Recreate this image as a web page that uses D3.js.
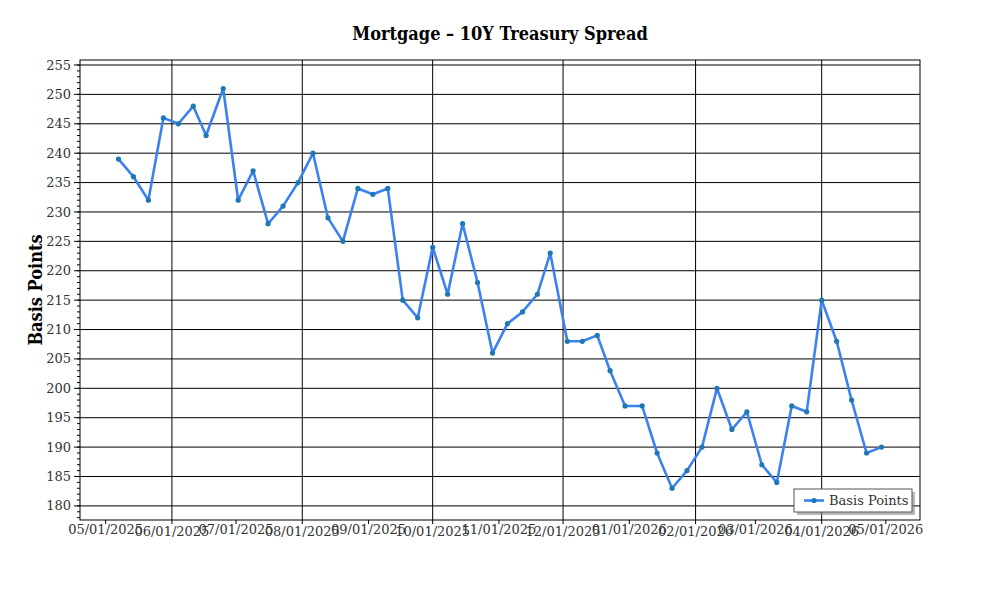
<!DOCTYPE html>
<html>
<head>
<meta charset="utf-8">
<script src="https://cdn.jsdelivr.net/npm/d3@7"></script>
<style>
  body { margin: 0; background: #fff; }
  svg text { font-family: "DejaVu Serif", serif; }
  svg text.cond { font-family: "DejaVu Serif Condensed", "DejaVu Serif", serif; font-stretch: condensed; }
</style>
</head>
<body>
<div id="container" style="width:1000px;height:600px;"></div>
<script>
// weekly survey dates and spread values (bp)
const dates = [
  "2025-05-07", "2025-05-14", "2025-05-21", "2025-05-28", "2025-06-04", "2025-06-11",
  "2025-06-17", "2025-06-25", "2025-07-02", "2025-07-09", "2025-07-16", "2025-07-23",
  "2025-07-30", "2025-08-06", "2025-08-13", "2025-08-20", "2025-08-27", "2025-09-03",
  "2025-09-10", "2025-09-17", "2025-09-24", "2025-10-01", "2025-10-08", "2025-10-15",
  "2025-10-22", "2025-10-29", "2025-11-05", "2025-11-12", "2025-11-19", "2025-11-25",
  "2025-12-03", "2025-12-10", "2025-12-17", "2025-12-23", "2025-12-30", "2026-01-07",
  "2026-01-14", "2026-01-21", "2026-01-28", "2026-02-04", "2026-02-11", "2026-02-18",
  "2026-02-25", "2026-03-04", "2026-03-11", "2026-03-18", "2026-03-25", "2026-04-01",
  "2026-04-08", "2026-04-15", "2026-04-22", "2026-04-29"
];
const spread = [
  239, 236, 232, 246, 245, 248,
  243, 251, 232, 237, 228, 231,
  235, 240, 229, 225, 234, 233,
  234, 215, 212, 224, 216, 228,
  218, 206, 211, 213, 216, 223,
  208, 208, 209, 203, 197, 197,
  189, 183, 186, 190, 200, 193,
  196, 187, 184, 197, 196, 215,
  208, 198, 189, 190
];
const yTicks = [180, 185, 190, 195, 200, 205, 210, 215, 220, 225, 230, 235, 240, 245, 250, 255];
const seriesName = "Basis Points";

const width = 1000, height = 600;
const margin = { top: 60, right: 80, bottom: 80, left: 80 };
const parse = d3.timeParse("%Y-%m-%d");
const data = dates.map((d, i) => ({ date: parse(d), value: spread[i] }));

const svg = d3.select("#container").append("svg")
    .attr("width", width)
    .attr("height", height);

const x = d3.scaleTime()
    .domain([parse("2025-04-19"), parse("2026-05-17")])
    .range([margin.left, width - margin.right]);

const y = d3.scaleLinear()
    .domain([177.6, 255.85])
    .range([height - margin.bottom, margin.top]);

const months = d3.timeMonth.range(parse("2025-05-01"), parse("2026-05-02"));
const gridMonths = months.filter(d => d.getMonth() % 2 === 1);

// grid
svg.append("g")
    .selectAll("line")
    .data(yTicks)
    .join("line")
    .attr("x1", margin.left).attr("x2", width - margin.right)
    .attr("y1", d => y(d)).attr("y2", d => y(d))
    .attr("stroke", "#000").attr("stroke-width", 1);

svg.append("g")
    .selectAll("line")
    .data(gridMonths)
    .join("line")
    .attr("x1", d => x(d)).attr("x2", d => x(d))
    .attr("y1", margin.top).attr("y2", height - margin.bottom)
    .attr("stroke", "#000").attr("stroke-width", 1);

// frame
svg.append("rect")
    .attr("x", margin.left).attr("y", margin.top)
    .attr("width", width - margin.left - margin.right)
    .attr("height", height - margin.top - margin.bottom)
    .attr("fill", "none").attr("stroke", "#000").attr("stroke-width", 1);

// y axis with minor ticks
const yMinor = d3.range(178, 256, 1);
svg.append("g")
    .selectAll("line")
    .data(yMinor)
    .join("line")
    .attr("x1", margin.left - 3).attr("x2", margin.left)
    .attr("y1", d => y(d)).attr("y2", d => y(d))
    .attr("stroke", "#000");

svg.append("g")
    .selectAll("line")
    .data(yTicks)
    .join("line")
    .attr("x1", margin.left - 6).attr("x2", margin.left)
    .attr("y1", d => y(d)).attr("y2", d => y(d))
    .attr("stroke", "#000");

svg.append("g")
    .selectAll("text")
    .data(yTicks)
    .join("text")
    .attr("x", margin.left - 9)
    .attr("y", d => y(d))
    .attr("dy", "0.35em")
    .attr("text-anchor", "end")
    .attr("font-size", 13)
    .attr("fill", "#333")
    .text(d => d);

// x ticks
svg.append("g")
    .selectAll("line")
    .data(months)
    .join("line")
    .attr("x1", d => x(d)).attr("x2", d => x(d))
    .attr("y1", height - margin.bottom).attr("y2", height - margin.bottom + 4)
    .attr("stroke", "#000");

const fmt = d3.timeFormat("%m/%d/%Y");
svg.append("g")
    .selectAll("text")
    .data(months)
    .join("text")
    .attr("x", d => x(d))
    .attr("y", (d, i) => height - margin.bottom + (i % 2 === 0 ? 14 : 16))
    .attr("text-anchor", "middle")
    .attr("font-size", 13)
    .attr("fill", "#333")
    .text(d => fmt(d));

// series
const line = d3.line()
    .x(d => x(d.date))
    .y(d => y(d.value));

svg.append("path")
    .datum(data)
    .attr("fill", "none")
    .attr("stroke", "#3b82f0")
    .attr("stroke-width", 2.6)
    .attr("stroke-linejoin", "round")
    .attr("d", line);

svg.append("g")
    .selectAll("circle")
    .data(data)
    .join("circle")
    .attr("cx", d => x(d.date))
    .attr("cy", d => y(d.value))
    .attr("r", 2.6)
    .attr("fill", "#1f77b4");

// title and y label
svg.append("text")
    .attr("class", "cond")
    .attr("x", width / 2)
    .attr("y", 40)
    .attr("text-anchor", "middle")
    .attr("font-size", 18)
    .attr("font-weight", "bold")
    .attr("fill", "#000")
    .text("Mortgage \u2013 10Y Treasury Spread");

svg.append("text")
    .attr("class", "cond")
    .attr("transform", `translate(42,${(margin.top + height - margin.bottom) / 2}) rotate(-90)`)
    .attr("text-anchor", "middle")
    .attr("font-size", 18)
    .attr("font-weight", "bold")
    .attr("fill", "#000")
    .text("Basis Points");

// legend
const lg = svg.append("g").attr("transform", "translate(794,489)");
lg.append("rect")
    .attr("x", 3).attr("y", 3)
    .attr("width", 118).attr("height", 23)
    .attr("fill", "#888").attr("opacity", 0.6);
lg.append("rect")
    .attr("width", 118).attr("height", 23)
    .attr("fill", "#fff").attr("stroke", "#555").attr("stroke-width", 1);
lg.append("line")
    .attr("x1", 10).attr("x2", 30).attr("y1", 11.5).attr("y2", 11.5)
    .attr("stroke", "#3b82f0").attr("stroke-width", 2.6);
lg.append("circle")
    .attr("cx", 20).attr("cy", 11.5).attr("r", 2.6).attr("fill", "#1f77b4");
lg.append("text")
    .attr("x", 35).attr("y", 11.5).attr("dy", "0.35em")
    .attr("font-size", 13).attr("fill", "#333")
    .text(seriesName);
</script>
</body>
</html>
